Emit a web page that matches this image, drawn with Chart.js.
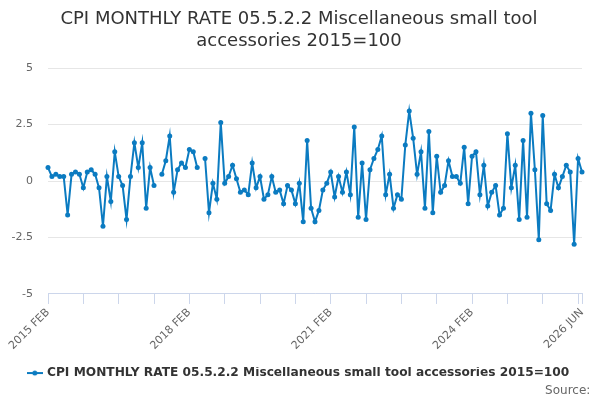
<!DOCTYPE html>
<html>
<head>
<meta charset="utf-8">
<script src="https://cdn.jsdelivr.net/npm/chart.js@4"></script>
<style>
  html, body { margin: 0; padding: 0; background: #fff; }
  #wrap { width: 600px; height: 400px; }
</style>
</head>
<body>
<div id="wrap"><canvas id="cpiChart" width="600" height="400"></canvas></div>
<script>
const SERIES_NAME = 'CPI MONTHLY RATE 05.5.2.2 Miscellaneous small tool accessories 2015=100';
const MONTHS = ['JAN', 'FEB', 'MAR', 'APR', 'MAY', 'JUN', 'JUL', 'AUG', 'SEP', 'OCT', 'NOV', 'DEC'];
const START_YEAR = 2015;
const START_MONTH = 1; // FEB
const Y_TICKS = [-5, -2.5, 0, 2.5, 5];

// monthly rate, 2015 FEB .. 2026 JUN (null = no data)
const values = [
    0.6, 0.2, 0.3, 0.2, 0.2, -1.5, 0.3, 0.4, 0.3, -0.3, 0.4,
    0.5, 0.3, -0.3, -2.0, 0.2, -0.9, 1.3, 0.2, -0.2, -1.7, 0.2, 1.7,
    0.6, 1.7, -1.2, 0.6, -0.2, null, 0.3, 0.9, 2.0, -0.5, 0.5, 0.8,
    0.6, 1.4, 1.3, 0.6, null, 1.0, -1.4, -0.1, -0.8, 2.6, -0.1, 0.2,
    0.7, 0.1, -0.5, -0.4, -0.6, 0.8, -0.3, 0.2, -0.8, -0.6, 0.2, -0.5,
    -0.4, -1.0, -0.2, -0.4, -1.0, -0.1, -1.8, 1.8, -1.2, -1.8, -1.3, -0.4,
    -0.1, 0.4, -0.7, 0.2, -0.5, 0.4, -0.6, 2.4, -1.6, 0.8, -1.7, 0.5,
    1.0, 1.4, 2.0, -0.6, 0.3, -1.2, -0.6, -0.8, 1.6, 3.1, 1.9, 0.3,
    1.3, -1.2, 2.2, -1.4, 1.1, -0.5, -0.2, 0.9, 0.2, 0.2, -0.1, 1.5,
    -1.0, 1.1, 1.3, -0.6, 0.7, -1.1, -0.5, -0.2, -1.5, -1.2, 2.1, -0.3,
    0.7, -1.7, 1.8, -1.6, 3.0, 0.5, -2.6, 2.9, -1.0, -1.3, 0.3, -0.3,
    0.2, 0.7, 0.4, -2.8, 1.0, 0.4
];

const labels = values.map((v, i) => {
    const m = START_MONTH + i;
    return (START_YEAR + Math.floor(m / 12)) + ' ' + MONTHS[m % 12];
});

const LINE_COLOR = '#0b7bc1';
const LAST = labels.length - 1;

// legend symbol: short line with a dot
const sym = document.createElement('canvas');
sym.width = 16;
sym.height = 8;
const sctx = sym.getContext('2d');
sctx.strokeStyle = LINE_COLOR;
sctx.lineWidth = 2;
sctx.beginPath();
sctx.moveTo(0, 4);
sctx.lineTo(16, 4);
sctx.stroke();
sctx.fillStyle = LINE_COLOR;
sctx.beginPath();
sctx.arc(8, 4, 2.5, 0, Math.PI * 2);
sctx.fill();

Chart.defaults.font.family = '"DejaVu Sans", sans-serif';

new Chart(document.getElementById('cpiChart'), {
    type: 'line',
    data: {
        labels: labels,
        datasets: [{
            label: SERIES_NAME,
            data: values,
            borderColor: LINE_COLOR,
            backgroundColor: LINE_COLOR,
            borderWidth: 2,
            pointRadius: 2.5,
            pointHoverRadius: 3,
            pointBackgroundColor: LINE_COLOR,
            pointBorderWidth: 0,
            tension: 0,
            spanGaps: false
        }]
    },
    options: {
        responsive: false,
        animation: false,
        layout: { padding: { left: 0, right: 2, top: 9, bottom: 7 } },
        plugins: {
            title: {
                display: true,
                text: ['CPI MONTHLY RATE 05.5.2.2 Miscellaneous small tool', 'accessories 2015=100'],
                color: '#333333',
                font: { size: 18, weight: 'normal' },
                lineHeight: 1.2,
                padding: { top: 0, bottom: 16 }
            },
            subtitle: {
                display: true,
                position: 'bottom',
                align: 'end',
                text: 'Source:\u00a0\u00a0',
                color: '#666666',
                font: { size: 12, weight: 'normal', lineHeight: 0.32 },
                padding: { top: 0, bottom: 0 }
            },
            legend: {
                position: 'bottom',
                labels: {
                    usePointStyle: true,
                    color: '#333333',
                    font: { size: 12.2, weight: 'bold' },
                    padding: 0,
                    generateLabels: () => [{
                        text: SERIES_NAME,
                        pointStyle: sym,
                        fillStyle: LINE_COLOR,
                        strokeStyle: LINE_COLOR,
                        lineWidth: 0,
                        datasetIndex: 0,
                        fontColor: '#333333'
                    }]
                }
            },
            tooltip: { enabled: false }
        },
        scales: {
            x: {
                offset: false,
                border: { display: true, color: '#ccd6eb', width: 1 },
                grid: {
                    drawOnChartArea: false,
                    drawTicks: true,
                    tickLength: 10,
                    tickColor: (c) => (c.index % 9 === 0 || c.index === LAST) ? '#ccd6eb' : 'rgba(0,0,0,0)'
                },
                ticks: {
                    autoSkip: false,
                    minRotation: 45,
                    maxRotation: 45,
                    color: '#666666',
                    font: { size: 11 },
                    padding: 2,
                    callback: function (val, i) {
                        return (i % 36 === 0 || i === LAST) ? labels[i] : '';
                    }
                },
                afterFit: (scale) => { scale.height = 73; }
            },
            y: {
                min: -5,
                max: 5,
                border: { display: false },
                grid: { color: '#e6e6e6', drawTicks: false },
                afterBuildTicks: (scale) => { scale.ticks = Y_TICKS.map(v => ({ value: v })); },
                ticks: {
                    color: '#666666',
                    font: { size: 11 },
                    padding: 15
                },
                afterFit: (scale) => { scale.width = 48; }
            },
            yRight: {
                position: 'right',
                min: -5,
                max: 5,
                border: { display: false },
                grid: { drawOnChartArea: false, drawTicks: false },
                ticks: { display: false },
                afterFit: (scale) => { scale.width = 16; }
            }
        }
    }
});
</script>
</body>
</html>
